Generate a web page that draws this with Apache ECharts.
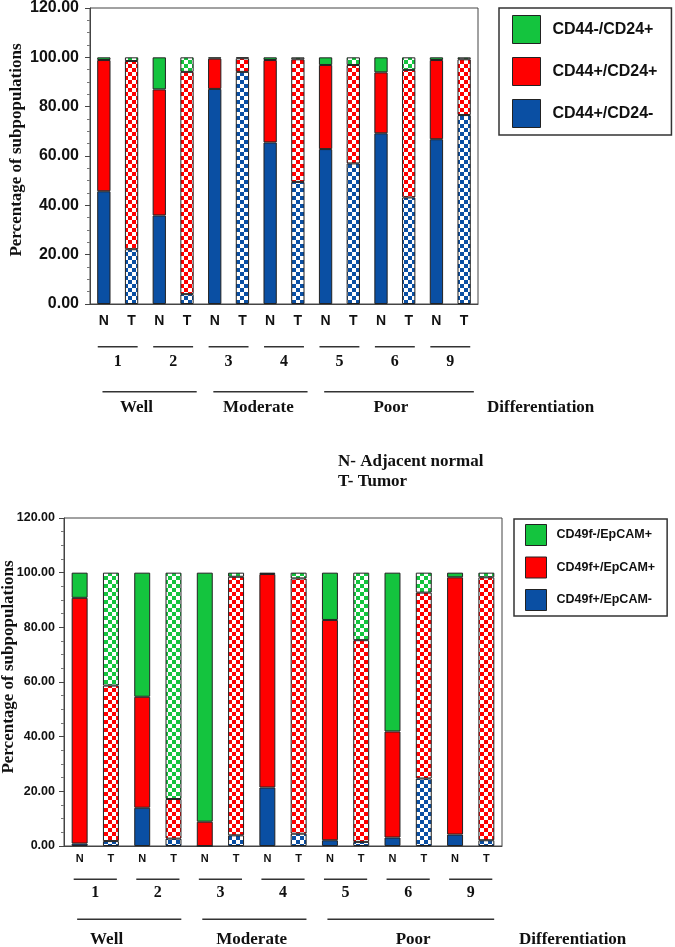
<!DOCTYPE html>
<html><head><meta charset="utf-8">
<script src="https://cdn.jsdelivr.net/npm/echarts@6/dist/echarts.min.js"></script>
<style>html,body{margin:0;padding:0;background:#fff}#c{width:675px;height:947px}</style>
</head><body><div id="c"></div>
<script>
// ---------- data ----------
const barLabels = ['N','T','N','T','N','T','N','T','N','T','N','T','N','T'];
const patientGroups = ['1','2','3','4','5','6','9'];
const diffGroups = ['Well','Moderate','Poor'];
const diffGroupSizes = [2, 2, 3];
const yTickValues = [0, 20, 40, 60, 80, 100, 120];

const topNames = ['CD44+/CD24-', 'CD44+/CD24+', 'CD44-/CD24+'];
const topBlue  = [45.7, 22.2, 35.9, 4.0, 87.2, 94.1, 65.5, 49.5, 62.8, 57.0, 69.2, 43.2, 66.8, 76.6];
const topRed   = [53.2, 76.3, 51.1, 90.1, 12.3, 5.5, 33.4, 49.7, 34.1, 39.9, 24.7, 51.7, 32.1, 22.6];
const topGreen = [1.1, 1.5, 13.0, 5.9, 0.5, 0.4, 1.1, 0.8, 3.1, 3.1, 6.1, 5.1, 1.1, 0.8];

const botNames = ['CD49f+/EpCAM-', 'CD49f+/EpCAM+', 'CD49f-/EpCAM+'];
const botBlue  = [0.9, 1.8, 14.0, 2.7, 0.0, 3.9, 21.4, 4.5, 2.1, 1.5, 3.1, 24.7, 4.2, 2.1];
const botRed   = [89.9, 56.9, 40.6, 14.5, 8.9, 94.6, 78.1, 93.4, 80.6, 73.8, 38.8, 68.0, 94.1, 96.2];
const botGreen = [9.2, 41.3, 45.4, 82.8, 91.1, 1.5, 0.5, 2.1, 17.3, 24.7, 58.1, 7.3, 1.7, 1.7];

// ---------- styling ----------
const BLUE = '#0a4fa3', RED = '#ff0000', GREEN = '#14c43e';
const SANS = '"Liberation Sans", Arial, sans-serif';
const SERIF = '"Liberation Serif", "Times New Roman", serif';
const INK = '#111';
const AX = '#444';

function checker(color, s) {
  const c = document.createElement('canvas');
  c.width = c.height = s * 2;
  const g = c.getContext('2d');
  g.fillStyle = '#fff'; g.fillRect(0, 0, s * 2, s * 2);
  g.fillStyle = color; g.fillRect(0, 0, s, s); g.fillRect(s, s, s, s);
  return { image: c, repeat: 'repeat' };
}

const cats = barLabels.map((l, i) => l + '_' + i);

function makeSeries(name, values, color, idx, stack, bw) {
  const pat = checker(color, 4);
  return {
    name, type: 'bar', stack, xAxisIndex: idx, yAxisIndex: idx, barWidth: bw,
    itemStyle: { color, borderColor: '#222', borderWidth: 1 },
    emphasis: { disabled: true },
    data: values.map((v, i) => i % 2 === 1 ? { value: v, itemStyle: { color: pat } } : v)
  };
}

function yAxis(idx, fs, margin, nameGap, namePad) {
  return {
    type: 'value', gridIndex: idx, min: 0, max: 120, interval: 20,
    axisLine: { show: true, lineStyle: { color: AX, width: 1 } },
    axisTick: { show: true, length: 5, lineStyle: { color: AX } },
    minorTick: { show: true, splitNumber: 4, length: 3, lineStyle: { color: '#777' } },
    splitLine: { show: false },
    axisLabel: { formatter: v => v.toFixed(2), fontSize: fs, fontWeight: 'bold', fontFamily: SANS, color: INK, margin },
    name: 'Percentage of subpopulations', nameLocation: 'middle', nameGap, nameMoveOverlap: false,
    nameTextStyle: { fontFamily: SERIF, fontWeight: 'bold', fontSize: 17, color: INK, padding: namePad }
  };
}
function xAxis(idx, fs, margin, tl) {
  return {
    type: 'category', gridIndex: idx, data: cats,
    axisLine: { lineStyle: { color: AX, width: 1 } },
    axisTick: { length: tl, lineStyle: { color: AX } },
    axisLabel: { formatter: v => v.split('_')[0], fontSize: fs, fontWeight: 'bold', fontFamily: SANS, color: INK, margin }
  };
}

const chart = echarts.init(document.getElementById('c'), null, { renderer: 'canvas' });
chart.setOption({
  animation: false,
  backgroundColor: '#fff',
  grid: [
    { left: 90, top: 8, width: 388, height: 296, show: true, borderColor: AX, borderWidth: 1, containLabel: false, outerBoundsMode: 'none' },
    { left: 64, top: 518, width: 438, height: 328, show: true, borderColor: AX, borderWidth: 1, containLabel: false, outerBoundsMode: 'none' }
  ],
  xAxis: [xAxis(0, 14, 10, 7), xAxis(1, 11, 7, 6)],
  yAxis: [yAxis(0, 16, 11, 65, [0, 0, 0, 12]), yAxis(1, 12.5, 9, 47, [0, 0, 0, 30])],
  legend: [
    {
      orient: 'vertical', left: 499, top: 8, padding: [7, 14, 7, 13],
      itemWidth: 28, itemHeight: 28, itemGap: 13, icon: 'rect',
      borderColor: '#333', borderWidth: 1.5, selectedMode: false,
      itemStyle: { borderColor: '#222', borderWidth: 1 },
      textStyle: { fontSize: 16, fontWeight: 'bold', fontFamily: SANS, color: INK, padding: [0, 0, 0, 7] },
      data: [topNames[2], topNames[1], topNames[0]]
    },
    {
      orient: 'vertical', left: 514, top: 519, padding: [5, 12, 5, 11],
      itemWidth: 21, itemHeight: 21, itemGap: 10.5, icon: 'rect',
      borderColor: '#333', borderWidth: 1.5, selectedMode: false,
      itemStyle: { borderColor: '#222', borderWidth: 1 },
      textStyle: { fontSize: 12.5, fontWeight: 'bold', fontFamily: SANS, color: INK, padding: [0, 0, 0, 5] },
      data: [botNames[2], botNames[1], botNames[0]]
    }
  ],
  series: [
    makeSeries(topNames[0], topBlue, BLUE, 0, 'a', '48%'),
    makeSeries(topNames[1], topRed, RED, 0, 'a', '48%'),
    makeSeries(topNames[2], topGreen, GREEN, 0, 'a', '48%'),
    makeSeries(botNames[0], botBlue, BLUE, 1, 'b', '51%'),
    makeSeries(botNames[1], botRed, RED, 1, 'b', '51%'),
    makeSeries(botNames[2], botGreen, GREEN, 1, 'b', '51%')
  ]
});

// ---------- annotations below the axes, positioned from the category axis ----------
function txt(text, x, y, size, align) {
  return { type: 'text', silent: true, style: { text, x, y, fontSize: size, fontWeight: 'bold', fontFamily: SERIF, fill: INK, align: align || 'center', verticalAlign: 'middle' } };
}
function ln(x1, x2, y) {
  return { type: 'line', silent: true, shape: { x1, y1: y, x2, y2: y }, style: { stroke: '#333', lineWidth: 1.5 } };
}
function annotations(idx, c) {
  const px = i => chart.convertToPixel({ xAxisIndex: idx }, i);
  const cw = px(1) - px(0);
  const out = [];
  const pairCenter = k => (px(2 * k) + px(2 * k + 1)) / 2;
  patientGroups.forEach((g, k) => {
    const pc = pairCenter(k);
    out.push(ln(pc - c.pairHalf * cw, pc + c.pairHalf * cw, c.pairLineY));
    out.push(txt(g, pc, c.numY, c.numFont));
  });
  let k0 = 0;
  diffGroups.forEach((d, j) => {
    const k1 = k0 + diffGroupSizes[j] - 1;
    const a = pairCenter(k0), b = pairCenter(k1);
    out.push(ln(a - c.bigStart * cw, b + c.bigEnd * cw, c.bigLineY));
    out.push(txt(d, (a + b) / 2 + c.nudge[j], c.diffY, 17));
    k0 = k1 + 1;
  });
  out.push(txt('Differentiation', c.diffX, c.diffY, 17, 'left'));
  return out;
}
const g = [].concat(
  annotations(0, { pairHalf: 0.72, pairLineY: 346.7, numY: 361.7, numFont: 16, bigStart: 0.55, bigEnd: 0.85, bigLineY: 391.7, diffY: 407.7, diffX: 487, nudge: [-9, 2, -4] }),
  annotations(1, { pairHalf: 0.69, pairLineY: 879.3, numY: 893.3, numFont: 16, bigStart: 0.58, bigEnd: 0.75, bigLineY: 919.3, diffY: 939.8, diffX: 519, nudge: [-20, 0, 5] }),
  [txt('N- Adjacent normal', 338, 461.5, 17, 'left'), txt('T- Tumor', 338, 481.5, 17, 'left')]
);
chart.setOption({ graphic: g });
</script>
</body></html>
